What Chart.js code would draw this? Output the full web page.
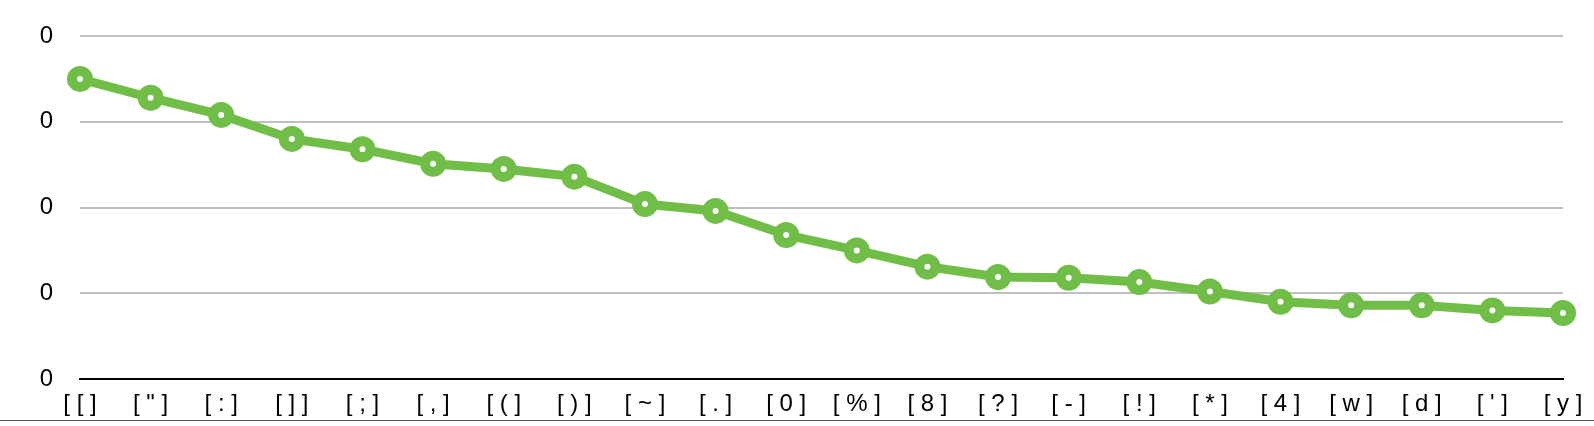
<!DOCTYPE html>
<html>
<head>
<meta charset="utf-8">
<script src="https://cdn.jsdelivr.net/npm/chart.js@4"></script>
<style>
    body { margin: 0; background: #fff; }
    #wrap { width: 1594px; height: 420px; border-bottom: 1px solid #555; }
</style>
</head>
<body>
<div id="wrap"><canvas id="lineChart" width="1594" height="420"></canvas></div>
<script>
// categories along the x axis
const categories = ['[ [ ]', '[ " ]', '[ : ]', '[ ] ]', '[ ; ]', '[ , ]', '[ ( ]', '[ ) ]', '[ ~ ]', '[ . ]', '[ 0 ]',
    '[ % ]', '[ 8 ]', '[ ? ]', '[ - ]', '[ ! ]', '[ * ]', '[ 4 ]', '[ w ]', '[ d ]', '[ \' ]', '[ y ]'];

// series values
const seriesValues = [0.0350, 0.0328, 0.0308, 0.0280, 0.0268, 0.0251, 0.0245, 0.0236, 0.0204, 0.0196, 0.0168,
    0.0150, 0.0131, 0.0119, 0.0118, 0.0113, 0.0102, 0.0090, 0.0086, 0.0086, 0.0080, 0.0077];

// tick labels on the y axis (bottom to top)
const yTickLabels = ['0', '0', '0', '0', '0'];

const green = '#70bd48';
const font = { family: '"Liberation Sans", Arial, sans-serif', size: 24 };

const ctx = document.getElementById('lineChart');
new Chart(ctx, {
    type: 'line',
    data: {
        labels: categories,
        datasets: [{
            data: seriesValues,
            borderColor: green,
            borderWidth: 9,
            pointRadius: 8,
            pointBorderWidth: 10,
            pointBackgroundColor: '#ffffff',
            pointBorderColor: green,
            tension: 0
        }]
    },
    options: {
        responsive: false,
        animation: false,
        layout: { padding: { top: 36, right: 31, bottom: 0, left: 0 } },
        plugins: {
            legend: { display: false },
            tooltip: { enabled: false }
        },
        scales: {
            x: {
                offset: false,
                grid: { display: false, drawTicks: false },
                border: { color: '#000000', width: 2 },
                ticks: { color: '#000', font: font, padding: 11, maxRotation: 0, autoSkip: false },
                afterFit(scale) { scale.height = 41; }
            },
            y: {
                min: 0,
                max: 0.04,
                grid: { color: '#bfbfbf', lineWidth: 2, drawTicks: false },
                border: { display: false },
                ticks: {
                    stepSize: 0.01,
                    color: '#000',
                    font: font,
                    padding: 27,
                    callback: (value, index) => yTickLabels[index]
                },
                afterFit(scale) {
                    scale.width = 80;
                    scale.paddingTop = 0;
                    scale.paddingBottom = 0;
                }
            }
        }
    }
});
</script>
</body>
</html>
